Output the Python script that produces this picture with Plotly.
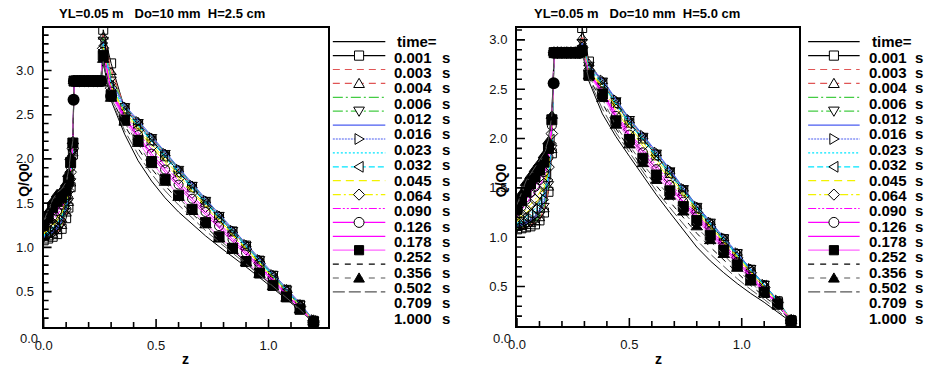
import plotly.graph_objects as go

W, H = 926, 369

# ---------------- data ----------------
LEGEND_LABELS = ["time=", "0.001", "0.003", "0.004", "0.006", "0.012", "0.016", "0.023",
                 "0.032", "0.045", "0.064", "0.090", "0.126", "0.178", "0.252", "0.356",
                 "0.502", "0.709", "1.000"]

TITLE_LEFT = "YL=0.05 m\u00a0\u00a0\u00a0Do=10 mm\u00a0\u00a0H=2.5 cm"
TITLE_RIGHT = "YL=0.05 m\u00a0\u00a0\u00a0Do=10 mm\u00a0\u00a0H=5.0 cm"

Z_LEFT = [0.00, 0.02, 0.04, 0.06, 0.08, 0.10, 0.11, 0.12, 0.13, 0.135,
          0.16, 0.18, 0.20, 0.22, 0.24, 0.255, 0.265,
          0.30, 0.36, 0.42, 0.48, 0.54, 0.60, 0.66, 0.72, 0.78, 0.84, 0.90, 0.96, 1.02, 1.08, 1.14, 1.20]

L01 = [1.29, 1.41, 1.53, 1.61, 1.65, 1.73, 1.85, 2.04, 2.22, 2.88, 2.88, 2.88, 2.88, 2.88, 2.88, 2.88, 3.08,
       2.66, 2.28, 1.98, 1.75, 1.56, 1.40, 1.26, 1.13, 1.01, 0.90, 0.78, 0.66, 0.54, 0.42, 0.29, 0.15]
L02 = [1.08, 1.10, 1.12, 1.15, 1.21, 1.33, 1.45, 1.68, 2.05, 2.88, 2.88, 2.88, 2.88, 2.88, 2.88, 2.88, 3.46,
       3.08, 2.57, 2.39, 2.21, 2.03, 1.85, 1.68, 1.51, 1.34, 1.18, 1.02, 0.85, 0.68, 0.52, 0.35, 0.17]
L03 = [1.09, 1.11, 1.13, 1.17, 1.23, 1.36, 1.48, 1.71, 2.06, 2.88, 2.88, 2.88, 2.88, 2.88, 2.88, 2.88, 3.40,
       3.02, 2.58, 2.40, 2.22, 2.04, 1.86, 1.69, 1.52, 1.35, 1.19, 1.02, 0.86, 0.69, 0.52, 0.35, 0.17]
L04 = [1.10, 1.11, 1.14, 1.18, 1.24, 1.38, 1.50, 1.72, 2.06, 2.88, 2.88, 2.88, 2.88, 2.88, 2.88, 2.88, 3.38,
       2.98, 2.59, 2.42, 2.24, 2.06, 1.88, 1.70, 1.53, 1.36, 1.19, 1.03, 0.86, 0.69, 0.53, 0.36, 0.18]
L05 = [1.10, 1.12, 1.15, 1.19, 1.26, 1.40, 1.52, 1.74, 2.07, 2.88, 2.88, 2.88, 2.88, 2.88, 2.88, 2.88, 3.37,
       2.94, 2.60, 2.43, 2.25, 2.07, 1.89, 1.71, 1.54, 1.37, 1.20, 1.04, 0.87, 0.70, 0.53, 0.36, 0.18]
L06 = [1.11, 1.13, 1.16, 1.20, 1.27, 1.41, 1.53, 1.75, 2.08, 2.88, 2.88, 2.88, 2.88, 2.88, 2.88, 2.88, 3.35,
       2.90, 2.60, 2.42, 2.25, 2.07, 1.89, 1.71, 1.54, 1.37, 1.20, 1.03, 0.87, 0.70, 0.53, 0.36, 0.18]
L07 = [1.11, 1.13, 1.17, 1.21, 1.29, 1.43, 1.55, 1.77, 2.08, 2.88, 2.88, 2.88, 2.88, 2.88, 2.88, 2.88, 3.33,
       2.87, 2.61, 2.44, 2.26, 2.08, 1.90, 1.72, 1.55, 1.38, 1.21, 1.05, 0.88, 0.71, 0.54, 0.37, 0.18]
L08 = [1.12, 1.14, 1.18, 1.23, 1.31, 1.45, 1.57, 1.78, 2.09, 2.88, 2.88, 2.88, 2.88, 2.88, 2.88, 2.88, 3.31,
       2.85, 2.59, 2.42, 2.24, 2.06, 1.88, 1.70, 1.53, 1.36, 1.19, 1.03, 0.86, 0.69, 0.52, 0.35, 0.18]
L09 = [1.13, 1.15, 1.20, 1.25, 1.33, 1.47, 1.58, 1.80, 2.10, 2.88, 2.88, 2.88, 2.88, 2.88, 2.88, 2.88, 3.30,
       2.84, 2.57, 2.40, 2.22, 2.04, 1.86, 1.69, 1.52, 1.35, 1.18, 1.02, 0.85, 0.68, 0.52, 0.35, 0.17]
L10 = [1.14, 1.17, 1.22, 1.27, 1.35, 1.49, 1.60, 1.82, 2.10, 2.88, 2.88, 2.88, 2.88, 2.88, 2.88, 2.88, 3.28,
       2.83, 2.55, 2.38, 2.20, 2.02, 1.84, 1.67, 1.50, 1.33, 1.17, 1.01, 0.84, 0.67, 0.51, 0.34, 0.17]
L11 = [1.15, 1.19, 1.24, 1.30, 1.38, 1.51, 1.62, 1.83, 2.11, 2.88, 2.88, 2.88, 2.88, 2.88, 2.88, 2.88, 3.27,
       2.82, 2.53, 2.36, 2.17, 1.99, 1.81, 1.64, 1.48, 1.31, 1.15, 0.99, 0.83, 0.66, 0.50, 0.34, 0.17]
L12 = [1.16, 1.21, 1.27, 1.33, 1.41, 1.53, 1.64, 1.85, 2.12, 2.88, 2.88, 2.88, 2.88, 2.88, 2.88, 2.88, 3.25,
       2.80, 2.51, 2.33, 2.14, 1.96, 1.78, 1.62, 1.46, 1.29, 1.13, 0.98, 0.82, 0.65, 0.49, 0.33, 0.17]
L13 = [1.18, 1.24, 1.31, 1.37, 1.44, 1.56, 1.67, 1.88, 2.14, 2.88, 2.88, 2.88, 2.88, 2.88, 2.88, 2.88, 3.23,
       2.78, 2.49, 2.30, 2.10, 1.92, 1.75, 1.58, 1.43, 1.27, 1.11, 0.96, 0.80, 0.64, 0.48, 0.33, 0.16]
L14 = [1.26, 1.28, 1.35, 1.41, 1.48, 1.59, 1.70, 1.91, 2.15, 2.88, 2.88, 2.88, 2.88, 2.88, 2.88, 2.88, 3.21,
       2.76, 2.47, 2.27, 2.06, 1.88, 1.71, 1.55, 1.40, 1.24, 1.09, 0.94, 0.79, 0.63, 0.47, 0.32, 0.16]
L15 = [1.22, 1.30, 1.38, 1.44, 1.51, 1.61, 1.72, 1.93, 2.16, 2.88, 2.88, 2.88, 2.88, 2.88, 2.88, 2.88, 3.19,
       2.74, 2.46, 2.25, 2.03, 1.85, 1.68, 1.52, 1.37, 1.22, 1.07, 0.92, 0.77, 0.62, 0.46, 0.31, 0.16]
L16 = [1.25, 1.33, 1.45, 1.52, 1.56, 1.64, 1.75, 1.96, 2.18, 2.88, 2.88, 2.88, 2.88, 2.88, 2.88, 2.88, 3.17,
       2.72, 2.44, 2.21, 1.97, 1.77, 1.59, 1.43, 1.28, 1.12, 0.99, 0.84, 0.71, 0.57, 0.44, 0.30, 0.16]
L17 = [1.26, 1.36, 1.48, 1.55, 1.60, 1.68, 1.79, 1.99, 2.19, 2.88, 2.88, 2.88, 2.88, 2.88, 2.88, 2.88, 3.14,
       2.70, 2.38, 2.12, 1.89, 1.70, 1.53, 1.38, 1.23, 1.09, 0.97, 0.83, 0.70, 0.56, 0.43, 0.30, 0.15]
L18 = [1.28, 1.40, 1.52, 1.60, 1.64, 1.72, 1.83, 2.02, 2.20, 2.88, 2.88, 2.88, 2.88, 2.88, 2.88, 2.88, 3.12,
       2.68, 2.41, 2.17, 1.93, 1.73, 1.56, 1.40, 1.25, 1.09, 0.96, 0.82, 0.69, 0.55, 0.42, 0.29, 0.15]
L19 = [1.30, 1.42, 1.54, 1.62, 1.66, 1.74, 1.86, 2.05, 2.21, 2.88, 2.88, 2.88, 2.88, 2.88, 2.88, 2.88, 3.10,
       2.67, 2.32, 2.05, 1.83, 1.64, 1.48, 1.33, 1.19, 1.06, 0.94, 0.82, 0.69, 0.56, 0.43, 0.30, 0.15]

CIRC_L_Z = [0.133, 0.135, 0.15, 0.165, 0.18, 0.195, 0.21, 0.225, 0.24, 0.255, 0.30, 1.20]
CIRC_L_Q = [2.67, 2.88, 2.88, 2.88, 2.88, 2.88, 2.88, 2.88, 2.88, 2.88, 2.71, 0.15]

Z_RIGHT = [0.00, 0.02, 0.04, 0.06, 0.08, 0.10, 0.12, 0.14, 0.155, 0.165,
           0.18, 0.20, 0.22, 0.24, 0.26, 0.28, 0.29,
           0.32, 0.38, 0.44, 0.50, 0.56, 0.62, 0.68, 0.74, 0.80, 0.86, 0.92, 0.98, 1.04, 1.10, 1.16, 1.22]

R01 = [1.34, 1.47, 1.58, 1.65, 1.72, 1.78, 1.86, 2.00, 2.25, 2.87, 2.87, 2.87, 2.87, 2.87, 2.87, 2.87, 2.88,
       2.58, 2.25, 2.02, 1.82, 1.62, 1.43, 1.25, 1.07, 0.90, 0.76, 0.64, 0.53, 0.43, 0.34, 0.24, 0.14]
R02 = [1.08, 1.09, 1.10, 1.11, 1.13, 1.17, 1.25, 1.46, 1.85, 2.87, 2.87, 2.87, 2.87, 2.87, 2.87, 2.87, 3.12,
       2.78, 2.56, 2.36, 2.16, 2.00, 1.83, 1.65, 1.47, 1.29, 1.13, 0.98, 0.83, 0.67, 0.51, 0.35, 0.16]
R03 = [1.08, 1.09, 1.10, 1.12, 1.14, 1.18, 1.26, 1.48, 1.87, 2.87, 2.87, 2.87, 2.87, 2.87, 2.87, 2.87, 3.05,
       2.77, 2.57, 2.37, 2.17, 2.01, 1.84, 1.66, 1.48, 1.30, 1.14, 0.98, 0.83, 0.67, 0.52, 0.35, 0.16]
R04 = [1.09, 1.10, 1.11, 1.13, 1.15, 1.19, 1.28, 1.50, 1.88, 2.87, 2.87, 2.87, 2.87, 2.87, 2.87, 2.87, 3.02,
       2.76, 2.58, 2.38, 2.18, 2.02, 1.85, 1.67, 1.49, 1.31, 1.15, 0.99, 0.84, 0.68, 0.52, 0.35, 0.16]
R05 = [1.09, 1.10, 1.12, 1.14, 1.16, 1.21, 1.30, 1.52, 1.90, 2.87, 2.87, 2.87, 2.87, 2.87, 2.87, 2.87, 3.00,
       2.75, 2.59, 2.39, 2.19, 2.03, 1.86, 1.68, 1.49, 1.31, 1.15, 0.99, 0.84, 0.68, 0.52, 0.36, 0.16]
R06 = [1.10, 1.11, 1.13, 1.15, 1.18, 1.23, 1.32, 1.54, 1.91, 2.87, 2.87, 2.87, 2.87, 2.87, 2.87, 2.87, 2.98,
       2.75, 2.59, 2.39, 2.20, 2.03, 1.86, 1.68, 1.50, 1.32, 1.16, 1.00, 0.85, 0.69, 0.53, 0.36, 0.16]
R07 = [1.10, 1.12, 1.14, 1.17, 1.20, 1.25, 1.35, 1.56, 1.93, 2.87, 2.87, 2.87, 2.87, 2.87, 2.87, 2.87, 2.97,
       2.74, 2.60, 2.40, 2.20, 2.04, 1.87, 1.69, 1.50, 1.32, 1.16, 1.00, 0.85, 0.69, 0.53, 0.36, 0.16]
R08 = [1.11, 1.13, 1.16, 1.19, 1.22, 1.28, 1.38, 1.58, 1.95, 2.87, 2.87, 2.87, 2.87, 2.87, 2.87, 2.87, 2.96,
       2.73, 2.59, 2.39, 2.19, 2.03, 1.86, 1.68, 1.49, 1.31, 1.15, 0.99, 0.84, 0.68, 0.52, 0.36, 0.16]
R09 = [1.12, 1.15, 1.18, 1.21, 1.25, 1.31, 1.41, 1.61, 1.97, 2.87, 2.87, 2.87, 2.87, 2.87, 2.87, 2.87, 2.95,
       2.72, 2.57, 2.37, 2.17, 2.01, 1.84, 1.66, 1.48, 1.30, 1.14, 0.98, 0.83, 0.67, 0.52, 0.35, 0.16]
R10 = [1.14, 1.17, 1.21, 1.24, 1.29, 1.35, 1.45, 1.64, 1.99, 2.87, 2.87, 2.87, 2.87, 2.87, 2.87, 2.87, 2.94,
       2.71, 2.55, 2.35, 2.15, 1.99, 1.82, 1.64, 1.46, 1.29, 1.13, 0.97, 0.82, 0.66, 0.51, 0.35, 0.16]
R11 = [1.16, 1.20, 1.24, 1.28, 1.33, 1.40, 1.49, 1.67, 2.02, 2.87, 2.87, 2.87, 2.87, 2.87, 2.87, 2.87, 2.93,
       2.70, 2.53, 2.32, 2.12, 1.96, 1.79, 1.62, 1.44, 1.27, 1.11, 0.96, 0.81, 0.65, 0.50, 0.34, 0.16]
R12 = [1.18, 1.23, 1.28, 1.33, 1.38, 1.45, 1.54, 1.71, 2.05, 2.87, 2.87, 2.87, 2.87, 2.87, 2.87, 2.87, 2.92,
       2.69, 2.51, 2.29, 2.09, 1.93, 1.76, 1.59, 1.42, 1.25, 1.10, 0.94, 0.79, 0.64, 0.49, 0.34, 0.16]
R13 = [1.21, 1.27, 1.33, 1.39, 1.45, 1.52, 1.60, 1.76, 2.09, 2.87, 2.87, 2.87, 2.87, 2.87, 2.87, 2.87, 2.91,
       2.67, 2.49, 2.26, 2.06, 1.89, 1.72, 1.56, 1.39, 1.23, 1.08, 0.92, 0.77, 0.62, 0.48, 0.33, 0.15]
R14 = [1.26, 1.31, 1.38, 1.45, 1.51, 1.58, 1.66, 1.81, 2.13, 2.87, 2.87, 2.87, 2.87, 2.87, 2.87, 2.87, 2.90,
       2.66, 2.48, 2.23, 2.04, 1.86, 1.69, 1.53, 1.36, 1.21, 1.06, 0.90, 0.75, 0.60, 0.46, 0.33, 0.15]
R15 = [1.26, 1.34, 1.42, 1.49, 1.56, 1.63, 1.71, 1.85, 2.16, 2.87, 2.87, 2.87, 2.87, 2.87, 2.87, 2.87, 2.90,
       2.65, 2.47, 2.21, 2.02, 1.83, 1.66, 1.50, 1.34, 1.19, 1.04, 0.89, 0.74, 0.59, 0.45, 0.32, 0.15]
R16 = [1.28, 1.37, 1.46, 1.54, 1.61, 1.68, 1.76, 1.90, 2.19, 2.87, 2.87, 2.87, 2.87, 2.87, 2.87, 2.87, 2.89,
       2.64, 2.45, 2.18, 1.99, 1.80, 1.63, 1.47, 1.31, 1.17, 1.02, 0.87, 0.72, 0.57, 0.44, 0.32, 0.15]
R17 = [1.30, 1.40, 1.50, 1.58, 1.65, 1.72, 1.80, 1.94, 2.21, 2.87, 2.87, 2.87, 2.87, 2.87, 2.87, 2.87, 2.89,
       2.62, 2.36, 2.10, 1.90, 1.70, 1.52, 1.36, 1.19, 1.04, 0.90, 0.77, 0.64, 0.51, 0.40, 0.29, 0.15]
R18 = [1.32, 1.44, 1.55, 1.62, 1.69, 1.75, 1.83, 1.97, 2.23, 2.87, 2.87, 2.87, 2.87, 2.87, 2.87, 2.87, 2.88,
       2.63, 2.40, 2.13, 1.93, 1.74, 1.57, 1.41, 1.25, 1.10, 0.96, 0.82, 0.68, 0.54, 0.42, 0.30, 0.15]
R19 = [1.33, 1.46, 1.57, 1.64, 1.71, 1.77, 1.85, 1.99, 2.24, 2.87, 2.87, 2.87, 2.87, 2.87, 2.87, 2.87, 2.88,
       2.60, 2.30, 2.06, 1.86, 1.66, 1.47, 1.30, 1.13, 0.97, 0.83, 0.70, 0.58, 0.47, 0.37, 0.26, 0.14]

CIRC_R_Z = [0.163, 0.165, 0.18, 0.195, 0.21, 0.225, 0.24, 0.255, 0.27, 0.28, 1.22]
CIRC_R_Q = [2.56, 2.87, 2.87, 2.87, 2.87, 2.87, 2.87, 2.87, 2.87, 2.87, 0.15]

LEFT_SERIES = [L01, L02, L03, L04, L05, L06, L07, L08, L09, L10, L11, L12, L13, L14, L15, L16, L17, L18, L19]
RIGHT_SERIES = [R01, R02, R03, R04, R05, R06, R07, R08, R09, R10, R11, R12, R13, R14, R15, R16, R17, R18, R19]

# axis tick values
X_MAJOR = [0.0, 0.5, 1.0]
X_MINOR = [0.1, 0.2, 0.3, 0.4, 0.6, 0.7, 0.8, 0.9, 1.1, 1.2]
Y_MAJOR = [0.5, 1.0, 1.5, 2.0, 2.5, 3.0]
Y_MINOR = [0.2, 0.3, 0.4, 0.6, 0.7, 0.8, 0.9, 1.1, 1.2, 1.3, 1.4, 1.6, 1.7, 1.8, 1.9,
           2.1, 2.2, 2.3, 2.4, 2.6, 2.7, 2.8, 2.9, 3.1, 3.2, 3.3, 3.4]

# ---------------- styles ----------------
STYLES = [
    dict(color="black", dash="solid", symbol=None),
    dict(color="black", dash="solid", symbol="square"),
    dict(color="#e05555", dash="7px,5px", symbol=None),
    dict(color="#e05555", dash="7px,5px", symbol="triangle-up"),
    dict(color="#44cc44", dash="10px,3px,2px,3px", symbol=None),
    dict(color="#44cc44", dash="10px,3px,2px,3px", symbol="triangle-down"),
    dict(color="#4a5cf0", dash="solid", symbol=None),
    dict(color="#4a5cf0", dash="2px,1px", symbol="triangle-right"),
    dict(color="#00e5ff", dash="2px,2px", symbol=None),
    dict(color="#00e5ff", dash="6px,3px", symbol="triangle-left"),
    dict(color="#f2f200", dash="8px,5px", symbol=None),
    dict(color="#f2f200", dash="8px,3px,2px,3px", symbol="diamond"),
    dict(color="#ff00ff", dash="8px,2px,2px,2px,2px,2px", symbol=None),
    dict(color="#ff00ff", dash="solid", symbol="circle"),
    dict(color="#ff00ff", dash="solid", symbol=None),
    dict(color="#ff66ff", dash="solid", symbol="square-filled"),
    dict(color="black", dash="6px,6px", symbol=None),
    dict(color="#555555", dash="6px,6px", symbol="triangle-up-filled"),
    dict(color="#555555", dash="12px,4px", symbol=None),
]


def plot_marker(sym):
    if sym is None:
        return None
    if sym.endswith("-filled"):
        return dict(symbol=sym.replace("-filled", ""), size=10, color="black",
                    line=dict(color="black", width=1))
    return dict(symbol=sym + "-open", size=9, color="black", line=dict(color="black", width=1))


# ---------------- geometry ----------------
def px(x):
    return x / W


def py(y):
    return 1 - y / H


def dom_x(a, b):
    return [a / W, b / W]


def dom_y(top, bottom):
    return [1 - bottom / H, 1 - top / H]


LEFT_BOX = dict(l=35, r=322, t=28, b=327)
RIGHT_BOX = dict(l=513, r=798, t=28, b=326)
LEFT_XR, LEFT_YR = [0, 1.264], [0.1, 3.48]
RIGHT_XR, RIGHT_YR = [0, 1.256], [0.1, 3.12]

fig = go.Figure()

panels = [
    ("x", "y", Z_LEFT, LEFT_SERIES, CIRC_L_Z, CIRC_L_Q, LEFT_BOX, LEFT_XR, LEFT_YR),
    ("x2", "y2", Z_RIGHT, RIGHT_SERIES, CIRC_R_Z, CIRC_R_Q, RIGHT_BOX, RIGHT_XR, RIGHT_YR),
]
for xa, ya, zs, series, cz, cq, box, xr, yr in panels:
    for q, st in zip(series, STYLES):
        mk = plot_marker(st["symbol"])
        fig.add_trace(go.Scatter(
            x=zs, y=q, xaxis=xa, yaxis=ya, showlegend=False, hoverinfo="skip",
            mode="lines+markers" if mk else "lines",
            line=dict(color=st["color"], width=1, dash=st["dash"]),
            marker=mk if mk else None))
    fig.add_trace(go.Scatter(
        x=cz, y=cq, xaxis=xa, yaxis=ya, mode="markers", showlegend=False, hoverinfo="skip",
        marker=dict(symbol="circle", size=12, color="black")))

    # inward ticks drawn as line traces on the axis scale (pixel lengths converted to data units)
    x_per_px = (xr[1] - xr[0]) / (box["r"] - box["l"])
    y_per_px = (yr[1] - yr[0]) / (box["b"] - box["t"])
    tx, ty = [], []
    for vals, ln in [(X_MAJOR, 8), (X_MINOR, 5)]:
        for v in vals:
            tx += [v, v, None]
            ty += [yr[0], yr[0] + ln * y_per_px, None]
    for vals, ln in [(Y_MAJOR, 8), (Y_MINOR, 5)]:
        for v in vals:
            if v > yr[1]:
                continue
            tx += [xr[0], xr[0] + ln * x_per_px, None]
            ty += [v, v, None]
    fig.add_trace(go.Scatter(x=tx, y=ty, xaxis=xa, yaxis=ya, mode="lines", showlegend=False,
                             hoverinfo="skip", cliponaxis=False, connectgaps=False,
                             line=dict(color="black", width=1.6)))

shapes = []
annotations = []


def glyph_path(sym, cx, cy, r=4.6):
    if sym.startswith("square"):
        pts = [(cx - r, cy - r), (cx + r, cy - r), (cx + r, cy + r), (cx - r, cy + r)]
    elif sym.startswith("triangle-up"):
        pts = [(cx, cy - r - 0.5), (cx + r + 0.8, cy + r - 0.5), (cx - r - 0.8, cy + r - 0.5)]
    elif sym.startswith("triangle-down"):
        pts = [(cx, cy + r + 0.5), (cx + r + 0.8, cy - r + 0.5), (cx - r - 0.8, cy - r + 0.5)]
    elif sym.startswith("triangle-right"):
        pts = [(cx + r + 0.5, cy), (cx - r + 0.5, cy - r - 0.8), (cx - r + 0.5, cy + r + 0.8)]
    elif sym.startswith("triangle-left"):
        pts = [(cx - r - 0.5, cy), (cx + r - 0.5, cy - r - 0.8), (cx + r - 0.5, cy + r + 0.8)]
    elif sym.startswith("diamond"):
        pts = [(cx, cy - r - 1), (cx + r + 1, cy), (cx, cy + r + 1), (cx - r - 1, cy)]
    else:
        return None
    return "M " + " L ".join("%.5f,%.5f" % (px(a), py(b)) for a, b in pts) + " Z"


SAMPLE_Y0, SAMPLE_DY = 41.7, 13.9
LABEL_Y0, LABEL_DY = 41.7, 15.37
legend_blocks = [
    dict(x0=327, x1=380, tx=386.5, tx_time=390, sx=435),
    dict(x0=807, x1=859, tx=866, tx_time=869, sx=913),
]
for blk in legend_blocks:
    for i, st in enumerate(STYLES):
        ys = SAMPLE_Y0 + i * SAMPLE_DY
        shapes.append(dict(type="line", xref="paper", yref="paper",
                           x0=px(blk["x0"]), x1=px(blk["x1"]), y0=py(ys), y1=py(ys),
                           line=dict(color=st["color"], width=1.2, dash=st["dash"])))
        sym = st["symbol"]
        if sym:
            cx = (blk["x0"] + blk["x1"]) / 2
            fill = "black" if sym.endswith("-filled") else "white"
            if sym == "circle":
                r = 5
                shapes.append(dict(type="circle", xref="paper", yref="paper",
                                   x0=px(cx - r), x1=px(cx + r), y0=py(ys + r), y1=py(ys - r),
                                   fillcolor=fill, line=dict(color="black", width=1)))
            else:
                shapes.append(dict(type="path", xref="paper", yref="paper",
                                   path=glyph_path(sym, cx, ys), fillcolor=fill,
                                   line=dict(color="black", width=1)))
    for i, lab in enumerate(LEGEND_LABELS):
        yl = LABEL_Y0 + i * LABEL_DY
        if i == 0:
            annotations.append(dict(x=px(blk["tx_time"]), y=py(yl), text="<b>%s</b>" % lab,
                                    xref="paper", yref="paper", xanchor="left", yanchor="middle",
                                    showarrow=False, font=dict(size=15, color="black")))
        else:
            annotations.append(dict(x=px(blk["tx"]), y=py(yl), text="<b>%s</b>" % lab,
                                    xref="paper", yref="paper", xanchor="left", yanchor="middle",
                                    showarrow=False, font=dict(size=15, color="black")))
            annotations.append(dict(x=px(blk["sx"]), y=py(yl), text="<b>s</b>",
                                    xref="paper", yref="paper", xanchor="left", yanchor="middle",
                                    showarrow=False, font=dict(size=15, color="black")))

for cx, title in [(155, TITLE_LEFT), (634, TITLE_RIGHT)]:
    annotations.append(dict(x=px(cx), y=py(14), text="<b>%s</b>" % title, xref="paper", yref="paper",
                            xanchor="center", yanchor="middle", showarrow=False,
                            font=dict(size=13, color="black")))
for cx in [178, 656]:
    annotations.append(dict(x=px(cx), y=py(359), text="<b>z</b>", xref="paper", yref="paper",
                            xanchor="center", yanchor="middle", showarrow=False,
                            font=dict(size=14, color="black")))
for cx in [15, 497]:
    annotations.append(dict(x=px(cx), y=py(180), text="<b>Q/Q0</b>", xref="paper", yref="paper",
                            textangle=-90, xanchor="center", yanchor="middle", showarrow=False,
                            font=dict(size=14, color="black")))
for rx in [31, 509]:
    annotations.append(dict(x=px(rx), y=py(338), text="0.0", xref="paper", yref="paper",
                            xanchor="right", yanchor="middle", showarrow=False,
                            font=dict(size=13, color="#111")))

x_axis = dict(showline=True, linecolor="black", linewidth=2, mirror=True,
              showgrid=False, zeroline=False, ticks="", tickmode="array",
              tickvals=X_MAJOR, ticktext=["%.1f" % v for v in X_MAJOR],
              tickfont=dict(size=13, color="#111"), ticklabelstandoff=5)
y_axis = dict(showline=True, linecolor="black", linewidth=2, mirror=True,
              showgrid=False, zeroline=False, ticks="", tickmode="array",
              tickvals=Y_MAJOR, ticktext=["%.1f" % v for v in Y_MAJOR],
              tickfont=dict(size=13, color="#111"), ticklabelstandoff=5)

fig.update_layout(
    width=W, height=H, autosize=False,
    margin=dict(l=0, r=0, t=0, b=0),
    paper_bgcolor="white", plot_bgcolor="white",
    font=dict(family="Liberation Sans, Arial, sans-serif", color="black"),
    showlegend=False,
    xaxis=dict(domain=dom_x(LEFT_BOX["l"], LEFT_BOX["r"]), range=LEFT_XR, anchor="y", **x_axis),
    yaxis=dict(domain=dom_y(LEFT_BOX["t"], LEFT_BOX["b"]), range=LEFT_YR, anchor="x", **y_axis),
    xaxis2=dict(domain=dom_x(RIGHT_BOX["l"], RIGHT_BOX["r"]), range=RIGHT_XR, anchor="y2", **x_axis),
    yaxis2=dict(domain=dom_y(RIGHT_BOX["t"], RIGHT_BOX["b"]), range=RIGHT_YR, anchor="x2", **y_axis),
    shapes=shapes,
    annotations=annotations,
)

fig.write_html("out.html")
